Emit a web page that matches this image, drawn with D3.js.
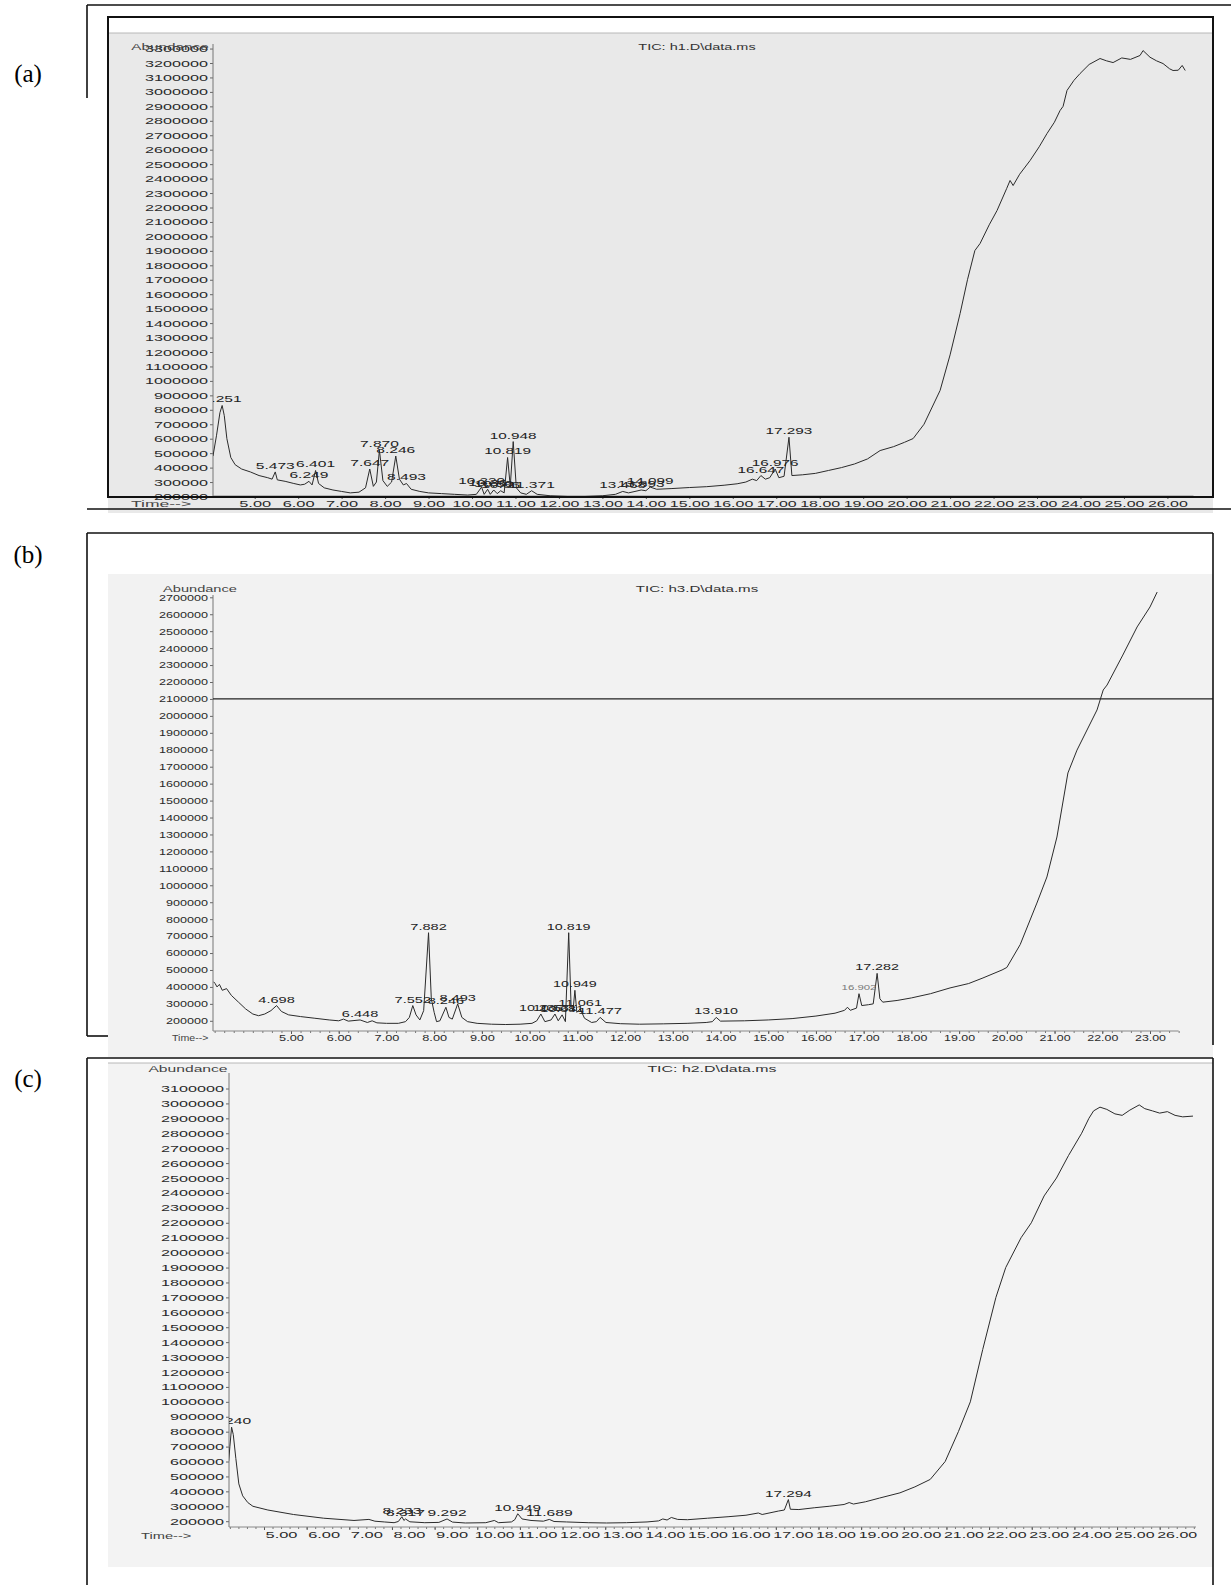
<!DOCTYPE html>
<html>
<head>
<meta charset="utf-8">
<script src="https://cdn.jsdelivr.net/npm/d3@7"></script>
<style>
  body { margin: 0; background: #fff; }
  svg text { font-family: "Liberation Sans", Arial, sans-serif; }
</style>
</head>
<body>
<script>
// ---- data: retention time (min) / abundance ----

// (a) TIC: h1.D\data.ms
var timeA = [4.04, 4.12, 4.20, 4.251, 4.30, 4.36, 4.45, 4.55, 4.70, 4.90, 5.10, 5.30, 5.40, 5.473, 5.52, 5.70, 5.90, 6.05, 6.15, 6.249, 6.32, 6.401, 6.47, 6.60, 6.80, 7.00, 7.20, 7.40, 7.55, 7.647, 7.73, 7.80, 7.870, 7.95, 8.05, 8.15, 8.246, 8.33, 8.42, 8.493, 8.60, 8.80, 9.00, 9.30, 9.60, 9.90, 10.10, 10.220, 10.28, 10.36, 10.42, 10.50, 10.58, 10.66, 10.74, 10.819, 10.88, 10.948, 11.02, 11.12, 11.25, 11.371, 11.50, 11.80, 12.20, 12.60, 13.00, 13.30, 13.468, 13.60, 13.75, 13.893, 14.00, 14.099, 14.25, 14.60, 15.00, 15.40, 15.80, 16.10, 16.30, 16.45, 16.55, 16.647, 16.75, 16.85, 16.976, 17.06, 17.18, 17.293, 17.36, 17.60, 17.90, 18.20, 18.50, 18.80, 19.10, 19.39, 19.70, 19.95, 20.15, 20.40, 20.77, 21.00, 21.23, 21.40, 21.57, 21.69, 21.90, 22.08, 22.30, 22.38, 22.45, 22.60, 22.84, 23.05, 23.23, 23.40, 23.53, 23.60, 23.69, 23.85, 23.99, 24.20, 24.45, 24.60, 24.75, 24.95, 25.15, 25.37, 25.44, 25.60, 25.75, 25.90, 26.05, 26.13, 26.25, 26.34, 26.41];
var abundA = [480000, 620000, 780000, 830000, 760000, 600000, 470000, 420000, 390000, 370000, 345000, 330000, 320000, 370000, 315000, 305000, 290000, 280000, 285000, 305000, 280000, 380000, 290000, 260000, 245000, 235000, 225000, 230000, 260000, 390000, 270000, 300000, 520000, 310000, 270000, 300000, 480000, 320000, 280000, 290000, 250000, 235000, 225000, 220000, 215000, 210000, 215000, 265000, 215000, 250000, 215000, 245000, 220000, 240000, 225000, 470000, 270000, 580000, 260000, 225000, 215000, 240000, 215000, 205000, 200000, 200000, 205000, 215000, 235000, 225000, 235000, 245000, 240000, 265000, 250000, 255000, 262000, 268000, 278000, 288000, 300000, 320000, 310000, 345000, 320000, 330000, 390000, 330000, 340000, 610000, 345000, 350000, 360000, 380000, 400000, 425000, 460000, 518000, 545000, 575000, 601000, 700000, 934000, 1180000, 1466000, 1700000, 1902000, 1951000, 2080000, 2179000, 2330000, 2387000, 2352000, 2430000, 2525000, 2620000, 2712000, 2790000, 2871000, 2900000, 3010000, 3080000, 3127000, 3190000, 3231000, 3215000, 3203000, 3235000, 3225000, 3252000, 3286000, 3240000, 3215000, 3196000, 3160000, 3148000, 3150000, 3183000, 3148000];
var peaksA = ["4.251", "5.473", "6.249", "6.401", "7.647", "7.870", "8.246", "8.493", "10.220", "10.36", "10.50", "10.66", "10.819", "10.948", "11.371", "13.468", "13.893", "14.099", "16.647", "16.976", "17.293"];
var yTicksA = [200000, 300000, 400000, 500000, 600000, 700000, 800000, 900000, 1000000, 1100000, 1200000, 1300000, 1400000, 1500000, 1600000, 1700000, 1800000, 1900000, 2000000, 2100000, 2200000, 2300000, 2400000, 2500000, 2600000, 2700000, 2800000, 2900000, 3000000, 3100000, 3200000, 3300000];
var xTicksA = [5, 6, 7, 8, 9, 10, 11, 12, 13, 14, 15, 16, 17, 18, 19, 20, 21, 22, 23, 24, 25, 26];

// (b) TIC: h3.D\data.ms
var timeB = [3.38, 3.41, 3.45, 3.50, 3.56, 3.65, 3.75, 3.90, 4.05, 4.20, 4.32, 4.45, 4.58, 4.698, 4.80, 4.95, 5.20, 5.50, 5.80, 6.00, 6.10, 6.20, 6.448, 6.60, 6.70, 6.80, 7.00, 7.25, 7.40, 7.48, 7.552, 7.62, 7.70, 7.78, 7.882, 7.94, 8.00, 8.05, 8.12, 8.246, 8.31, 8.38, 8.493, 8.58, 8.70, 8.90, 9.20, 9.50, 9.80, 10.05, 10.15, 10.236, 10.32, 10.45, 10.531, 10.60, 10.681, 10.75, 10.819, 10.87, 10.91, 10.949, 10.99, 11.061, 11.15, 11.30, 11.40, 11.477, 11.60, 11.90, 12.30, 12.80, 13.30, 13.70, 13.83, 13.910, 14.00, 14.50, 15.00, 15.50, 16.00, 16.40, 16.60, 16.66, 16.72, 16.85, 16.902, 16.96, 17.10, 17.20, 17.282, 17.34, 17.40, 17.70, 18.00, 18.40, 18.81, 19.20, 19.50, 19.90, 20.00, 20.28, 20.63, 20.84, 21.05, 21.28, 21.47, 21.89, 22.02, 22.10, 22.43, 22.73, 23.00, 23.15];
var abundB = [430000, 420000, 400000, 415000, 380000, 390000, 350000, 310000, 270000, 240000, 230000, 240000, 260000, 290000, 255000, 235000, 225000, 215000, 205000, 200000, 210000, 198000, 205000, 190000, 200000, 188000, 185000, 185000, 195000, 220000, 290000, 235000, 205000, 260000, 720000, 330000, 250000, 195000, 200000, 280000, 220000, 210000, 300000, 220000, 195000, 185000, 180000, 178000, 180000, 185000, 200000, 240000, 195000, 205000, 240000, 200000, 235000, 195000, 720000, 280000, 260000, 380000, 250000, 270000, 215000, 190000, 195000, 220000, 190000, 183000, 180000, 182000, 185000, 190000, 195000, 220000, 198000, 200000, 205000, 213000, 228000, 245000, 262000, 280000, 262000, 275000, 360000, 290000, 295000, 300000, 480000, 330000, 310000, 320000, 335000, 360000, 394000, 420000, 453000, 500000, 515000, 650000, 895000, 1049000, 1285000, 1663000, 1798000, 2035000, 2153000, 2182000, 2359000, 2525000, 2643000, 2731000];
var peaksB = ["4.698", "6.448", "7.552", "7.882", "8.246", "8.493", "10.236", "10.531", "10.681", "10.819", "10.949", "11.061", "11.477", "13.910", "17.282"];
var faintPeaksB = ["16.902"];
var yTicksB = [200000, 300000, 400000, 500000, 600000, 700000, 800000, 900000, 1000000, 1100000, 1200000, 1300000, 1400000, 1500000, 1600000, 1700000, 1800000, 1900000, 2000000, 2100000, 2200000, 2300000, 2400000, 2500000, 2600000, 2700000];
var xTicksB = [5, 6, 7, 8, 9, 10, 11, 12, 13, 14, 15, 16, 17, 18, 19, 20, 21, 22, 23];
var markLineB = 2100000;

// (c) TIC: h2.D\data.ms
var timeC = [4.17, 4.20, 4.240, 4.28, 4.34, 4.41, 4.50, 4.62, 4.74, 5.09, 5.69, 6.40, 7.11, 7.46, 7.60, 7.82, 8.05, 8.15, 8.233, 8.28, 8.317, 8.42, 8.77, 9.10, 9.292, 9.42, 9.72, 10.20, 10.40, 10.50, 10.80, 10.88, 10.949, 11.05, 11.26, 11.55, 11.689, 11.80, 12.09, 12.60, 13.03, 13.50, 13.98, 14.25, 14.35, 14.45, 14.55, 14.70, 14.93, 15.40, 15.88, 16.30, 16.59, 16.68, 17.06, 17.20, 17.294, 17.34, 17.54, 17.90, 18.25, 18.60, 18.72, 18.82, 19.10, 19.43, 19.91, 20.26, 20.62, 20.97, 21.28, 21.56, 21.85, 22.16, 22.39, 22.75, 22.99, 23.29, 23.58, 23.86, 24.17, 24.34, 24.45, 24.60, 24.76, 24.95, 25.12, 25.30, 25.52, 25.65, 25.83, 26.00, 26.18, 26.36, 26.54, 26.78];
var abundC = [600000, 700000, 830000, 780000, 620000, 450000, 370000, 325000, 300000, 275000, 245000, 220000, 205000, 212000, 200000, 195000, 190000, 198000, 230000, 205000, 215000, 196000, 190000, 192000, 215000, 194000, 188000, 190000, 205000, 190000, 195000, 210000, 250000, 215000, 205000, 200000, 212000, 198000, 195000, 190000, 188000, 190000, 195000, 202000, 215000, 208000, 225000, 212000, 210000, 220000, 230000, 240000, 255000, 245000, 268000, 275000, 345000, 280000, 278000, 290000, 300000, 312000, 325000, 315000, 330000, 355000, 390000, 430000, 480000, 600000, 800000, 1000000, 1350000, 1700000, 1900000, 2100000, 2200000, 2380000, 2500000, 2650000, 2800000, 2900000, 2950000, 2975000, 2960000, 2930000, 2920000, 2955000, 2990000, 2965000, 2950000, 2935000, 2945000, 2920000, 2910000, 2915000];
var peaksC = ["4.240", "8.233", "8.317", "9.292", "10.949", "11.689", "17.294"];
var yTicksC = [200000, 300000, 400000, 500000, 600000, 700000, 800000, 900000, 1000000, 1100000, 1200000, 1300000, 1400000, 1500000, 1600000, 1700000, 1800000, 1900000, 2000000, 2100000, 2200000, 2300000, 2400000, 2500000, 2600000, 2700000, 2800000, 2900000, 3000000, 3100000];
var xTicksC = [5, 6, 7, 8, 9, 10, 11, 12, 13, 14, 15, 16, 17, 18, 19, 20, 21, 22, 23, 24, 25, 26];

var width = 1231,
  height = 1585;

var svg = d3.select("body")
  .append("svg")
  .attr("width", width)
  .attr("height", height);

// stretch text horizontally like the wide ChemStation print font
function stretch(sel, cw) {
  sel.each(function () {
    var t = d3.select(this);
    t.attr("textLength", t.text().length * cw)
      .attr("lengthAdjust", "spacingAndGlyphs");
  });
}

function frameLines(g, lines, w) {
  lines.forEach(function (l) {
    g.append("line")
      .attr("x1", l[0]).attr("y1", l[1])
      .attr("x2", l[2]).attr("y2", l[3])
      .attr("stroke", "#111")
      .attr("stroke-width", w);
  });
}

function drawPanel(p) {
  var g = svg.append("g");

  // grey print area
  g.append("rect")
    .attr("x", p.gray[0]).attr("y", p.gray[1])
    .attr("width", p.gray[2] - p.gray[0])
    .attr("height", p.gray[3] - p.gray[1])
    .attr("fill", p.grayFill);
  if (p.grayLine) {
    g.append("line")
      .attr("x1", p.gray[0]).attr("x2", p.gray[2])
      .attr("y1", p.gray[1]).attr("y2", p.gray[1])
      .attr("stroke", "#b8b8b8");
  }

  var x = d3.scaleLinear().domain(p.xDom).range(p.xRange);
  var y = d3.scaleLinear().domain(p.yDom).range(p.yRange);

  // y axis
  var ya = g.append("g")
    .attr("transform", "translate(" + p.axisX + ",0)")
    .call(d3.axisLeft(y).tickValues(p.yTicks).tickSize(3).tickPadding(2).tickFormat(d3.format("d")));
  ya.select(".domain").remove();
  ya.attr("font-family", null).attr("font-size", p.fs).attr("color", "#666");
  ya.selectAll("text").attr("fill", "#2a2a2a").call(stretch, p.cwY);
  g.append("line")
    .attr("x1", p.axisX).attr("x2", p.axisX)
    .attr("y1", p.axisTop).attr("y2", p.axisY)
    .attr("stroke", "#777");

  // x axis, minutes + minor ticks
  var minor = d3.range(Math.ceil(p.xStart * 5) / 5, p.xEnd, 0.2);
  var xm = g.append("g")
    .attr("transform", "translate(0," + p.axisY + ")")
    .call(d3.axisBottom(x).tickValues(minor).tickSize(2).tickFormat(""));
  xm.select(".domain").remove();
  xm.attr("color", "#777");
  var xa = g.append("g")
    .attr("transform", "translate(0," + p.axisY + ")")
    .call(d3.axisBottom(x).tickValues(p.xTicks).tickSize(3).tickPadding(1).tickFormat(function (d) { return d.toFixed(2); }));
  xa.select(".domain").remove();
  xa.attr("font-family", null).attr("font-size", p.fs).attr("color", "#555");
  xa.selectAll("text").attr("fill", "#2a2a2a").attr("dx", p.labelDx || 0).call(stretch, p.cwX);
  g.append("line")
    .attr("x1", p.axisX).attr("x2", x(p.xEnd))
    .attr("y1", p.axisY).attr("y2", p.axisY)
    .attr("stroke", "#888");

  if (p.markLine) {
    g.append("line")
      .attr("x1", p.axisX).attr("x2", p.gray[2])
      .attr("y1", y(p.markLine)).attr("y2", y(p.markLine))
      .attr("stroke", "#222").attr("stroke-width", 1.3);
  }

  // clip to plot area
  svg.append("clipPath").attr("id", p.id)
    .append("rect")
    .attr("x", p.axisX).attr("y", p.clipTop)
    .attr("width", p.gray[2] - p.axisX)
    .attr("height", p.axisY - p.clipTop);
  var pg = g.append("g").attr("clip-path", "url(#" + p.id + ")");

  var pts = d3.zip(p.time, p.abund);
  pg.append("path")
    .datum(pts)
    .attr("fill", "none")
    .attr("stroke", "#2b2b2b")
    .attr("stroke-width", 1)
    .attr("d", d3.line().x(function (d) { return x(d[0]); }).y(function (d) { return y(d[1]); }));

  function apex(s) {
    var t = +s, best = 0;
    p.time.forEach(function (v, i) { if (Math.abs(v - t) < Math.abs(p.time[best] - t)) best = i; });
    return p.abund[best];
  }

  pg.selectAll("text.peak")
    .data(p.peaks)
    .enter()
    .append("text")
    .attr("class", "peak")
    .attr("x", function (d) { return x(+d); })
    .attr("y", function (d) { return y(apex(d)) - 3; })
    .attr("text-anchor", "middle")
    .attr("font-size", p.fs)
    .attr("fill", "#222")
    .text(function (d) { return d; })
    .call(stretch, p.cwPeak);

  if (p.faint) {
    pg.selectAll("text.faint")
      .data(p.faint)
      .enter()
      .append("text")
      .attr("class", "faint")
      .attr("x", function (d) { return x(+d); })
      .attr("y", function (d) { return y(apex(d)) - 4; })
      .attr("text-anchor", "middle")
      .attr("font-size", p.fs - 2)
      .attr("fill", "#777")
      .text(function (d) { return d; })
      .call(stretch, p.cwPeak - 1.5);
  }

  // header texts
  g.append("text")
    .attr("x", p.abund_xy[0]).attr("y", p.abund_xy[1])
    .attr("text-anchor", "middle")
    .attr("font-size", p.fs).attr("fill", "#444")
    .text("Abundance").call(stretch, p.cwAb);
  g.append("text")
    .attr("x", p.tic_xy[0]).attr("y", p.tic_xy[1])
    .attr("text-anchor", "middle")
    .attr("font-size", p.fs).attr("fill", "#333")
    .text(p.title).call(stretch, p.cwTic);
  g.append("text")
    .attr("x", p.time_xy[0]).attr("y", p.time_xy[1])
    .attr("font-size", p.fs).attr("fill", "#444")
    .text("Time-->").call(stretch, p.cwTime);

  if (p.box) {
    g.append("rect")
      .attr("x", p.box[0]).attr("y", p.box[1])
      .attr("width", p.box[2] - p.box[0])
      .attr("height", p.box[3] - p.box[1])
      .attr("fill", "none")
      .attr("stroke", "#111")
      .attr("stroke-width", 2);
  }
  frameLines(g, p.frame, 1.6);

  // panel letter
  svg.append("text")
    .attr("x", 28).attr("y", p.letterY)
    .attr("text-anchor", "middle")
    .style("font-family", "'Liberation Serif', 'Times New Roman', serif")
    .attr("font-size", 25)
    .attr("fill", "#000")
    .text(p.letter);
}

drawPanel({
  id: "clipA", letter: "(a)", letterY: 82, title: "TIC: h1.D\\data.ms",
  time: timeA, abund: abundA, peaks: peaksA, yTicks: yTicksA, xTicks: xTicksA,
  gray: [108, 33, 1213, 513], grayFill: "#e9e9e9", grayLine: true,
  box: [108, 17, 1213, 497],
  frame: [[87, 5, 1231, 5], [87, 5, 87, 98], [87, 509, 1231, 509]],
  axisX: 213, axisTop: 44, axisY: 496, clipTop: 34, xStart: 4.1, xEnd: 26.6,
  xDom: [5, 26], xRange: [254.7, 1167.4],
  yDom: [200000, 3200000], yRange: [496.5, 63],
  fs: 9.5, cwY: 9, cwX: 8, cwPeak: 7.8, cwAb: 8.6, cwTic: 6.9, cwTime: 8.6,
  abund_xy: [170, 50], tic_xy: [697, 50], time_xy: [131, 507]
});

drawPanel({
  id: "clipB", letter: "(b)", letterY: 563, title: "TIC: h3.D\\data.ms",
  time: timeB, abund: abundB, peaks: peaksB, faint: faintPeaksB, yTicks: yTicksB, xTicks: xTicksB,
  markLine: markLineB,
  gray: [108, 574, 1213, 1057], grayFill: "#f2f2f2", grayLine: false,
  frame: [[87, 533, 1213, 533], [1213, 533, 1213, 1045], [87, 533, 87, 1036], [87, 1036, 108, 1036]],
  axisX: 213, axisTop: 595, axisY: 1031, clipTop: 580, xStart: 3.4, xEnd: 23.6,
  xDom: [5, 23], xRange: [291, 1150],
  yDom: [200000, 2700000], yRange: [1020.8, 597.3],
  fs: 9, cwY: 7, cwX: 6.2, cwPeak: 7.3, cwAb: 8.2, cwTic: 7.2, cwTime: 5.2,
  abund_xy: [200, 592], tic_xy: [697, 592], time_xy: [172, 1041]
});

drawPanel({
  id: "clipC", letter: "(c)", letterY: 1087, title: "TIC: h2.D\\data.ms",
  time: timeC, abund: abundC, peaks: peaksC, yTicks: yTicksC, xTicks: xTicksC,
  gray: [108, 1063, 1213, 1567], grayFill: "#f3f3f3", grayLine: true,
  frame: [[87, 1058, 1213, 1058], [87, 1058, 87, 1585], [1213, 1058, 1213, 1585]],
  axisX: 229, axisTop: 1073, axisY: 1527, clipTop: 1064, xStart: 4.2, xEnd: 26.85,
  xDom: [5, 26], xRange: [264, 1159.7], labelDx: 17,
  yDom: [200000, 3100000], yRange: [1521.2, 1088.5],
  fs: 9.5, cwY: 9, cwX: 8, cwPeak: 7.8, cwAb: 8.8, cwTic: 7.6, cwTime: 7.2,
  abund_xy: [188, 1072], tic_xy: [712, 1072], time_xy: [141, 1539]
});
</script>
</body>
</html>
